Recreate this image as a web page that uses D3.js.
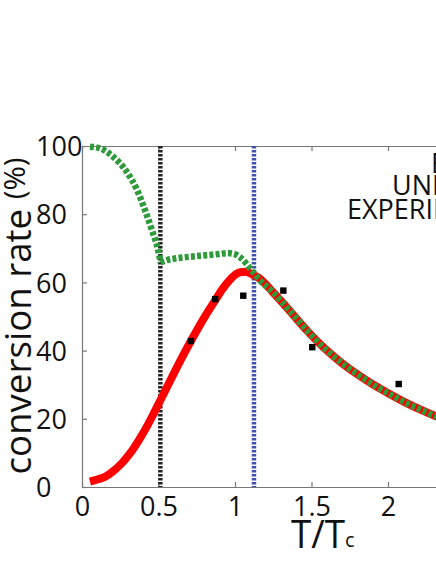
<!DOCTYPE html>
<html><head><meta charset="utf-8">
<script src="https://cdn.jsdelivr.net/npm/d3@7"></script>
<style>html,body{margin:0;padding:0;background:#fff;}svg{display:block;}</style>
</head><body>
<script>
// ---- data ----
const greenT = [0.052,0.12,0.2,0.29,0.36,0.41,0.455,0.50,0.514];
const greenY = [99.8,99.3,97.0,92.6,87.1,81.4,75.6,69.0,65.8];
const green2T = [0.514,0.56,0.62,0.70,0.77,0.89,0.95,0.99,1.035,1.076,1.10,1.13,1.142,1.25,1.359,1.468,1.577,1.686,1.795,1.904,2.013,2.122,2.231,2.314,2.4];
const green2Y = [65.8,66.6,67.1,67.5,67.8,68.3,68.6,68.4,67.3,65.4,64.0,62.4,61.7,57.0,51.6,46.0,41.0,36.8,33.2,30.0,27.2,24.6,22.3,20.7,19.2];
const redT = [0.052,0.1,0.152,0.2,0.261,0.32,0.37,0.42,0.458,0.523,0.588,0.654,0.719,0.806,0.871,0.92,0.967,1.0,1.033,1.07,1.098,1.125,1.142,1.25,1.359,1.468,1.577,1.686,1.795,1.904,2.013,2.122,2.231,2.314,2.4];
const redY = [1.6,2.2,3.0,4.5,7.0,10.2,13.6,17.4,20.6,26.4,32.2,38.0,43.4,50.2,54.8,58.2,60.8,62.2,63.0,63.1,62.7,62.0,61.7,57.0,51.6,46.0,41.0,36.8,33.2,30.0,27.2,24.6,22.3,20.7,19.2];
const expT = [0.712,0.871,1.054,1.316,1.505,2.07];
const expY = [42.8,55.1,56.1,57.6,41.0,30.2];
const vlineBlack = 0.512;
const vlineBlue = 1.124;
const xTicks = [0,0.5,1,1.5,2,2.5];
const xTickLabels = ["0","0.5","1","1.5","2","2.5"];
const yTicks = [0,20,40,60,80,100];
const legendLabels = ["BEC","UNITARY","EXPERIMENT"];

const W = 436, H = 564;
const svg = d3.select("body").append("svg").attr("width",W).attr("height",H);
svg.append("rect").attr("width",W).attr("height",H).attr("fill","#fff");

const x = d3.scaleLinear().domain([0,3]).range([82,82+459]);
const y = d3.scaleLinear().domain([0,100]).range([487,146]);
const font = "'Open Sans', 'DejaVu Sans', sans-serif";
const axisColor = "#777";

// axes
const gB = svg.append("g").attr("transform","translate(0,487)")
  .call(d3.axisBottom(x).tickValues(xTicks).tickFormat((d,i)=>xTickLabels[i]).tickSizeInner(-5).tickSizeOuter(0));
gB.selectAll("text").attr("y",29).attr("dy",0).attr("font-size",27).attr("font-family",font).attr("fill","#111");
const gT = svg.append("g").attr("transform","translate(0,146)")
  .call(d3.axisTop(x).tickValues(xTicks).tickFormat("").tickSizeInner(-5).tickSizeOuter(0));
const gL = svg.append("g").attr("transform","translate(82,0)")
  .call(d3.axisLeft(y).tickValues(yTicks).tickSizeInner(-5).tickSizeOuter(0));
gL.selectAll("text").attr("x",-46).attr("dy","0.36em").attr("text-anchor","start")
  .attr("font-size",27).attr("font-family",font).attr("fill","#111");
[gB,gT,gL].forEach(g=>{
  g.select(".domain").attr("stroke",axisColor).attr("stroke-width",1.2);
  g.selectAll(".tick line").attr("stroke",axisColor).attr("stroke-width",1.2);
});

// vertical dashed lines
svg.append("line").attr("x1",x(vlineBlack)).attr("x2",x(vlineBlack)).attr("y1",y(100)).attr("y2",y(0))
  .attr("stroke","#222").attr("stroke-width",4.5).attr("stroke-dasharray","2.6,1.4");
svg.append("line").attr("x1",x(vlineBlue)).attr("x2",x(vlineBlue)).attr("y1",y(100)).attr("y2",y(0))
  .attr("stroke","#3f52a8").attr("stroke-width",4.5).attr("stroke-dasharray","2.6,1.4");

const line = d3.line().x(d=>x(d[0])).y(d=>y(d[1])).curve(d3.curveMonotoneX);

// red line
svg.append("path").datum(redT.map((t,i)=>[t,redY[i]])).attr("d",line)
  .attr("fill","none").attr("stroke","#ff0000").attr("stroke-width",8);

// green dashed
const gStyle = p=>p.attr("fill","none").attr("stroke","#2e9a3a").attr("stroke-width",6.5).attr("stroke-dasharray","4,2.2");
svg.append("path").datum(greenT.map((t,i)=>[t,greenY[i]])).attr("d",line).call(gStyle);
svg.append("path").datum(green2T.map((t,i)=>[t,green2Y[i]])).attr("d",line).call(gStyle);

// experiment points
svg.append("g").selectAll("rect").data(expT.map((t,i)=>[t,expY[i]])).join("rect")
  .attr("x",d=>x(d[0])-3.2).attr("y",d=>y(d[1])-3.2).attr("width",6.4).attr("height",6.4).attr("fill","#000");

// legend (cut off on right, as in the reference)
const legX = [431,392,347], legY = [173,195,219];
svg.append("g").selectAll("text").data(legendLabels).join("text")
  .attr("x",(d,i)=>legX[i]).attr("y",(d,i)=>legY[i])
  .attr("font-size",27).attr("font-family",font).attr("fill","#111").text(d=>d);

// axis titles
const yl = svg.append("text").attr("transform","translate(31,316) rotate(-90)").attr("text-anchor","middle")
  .attr("font-size",36).attr("font-family",font).attr("fill","#111")
  .attr("textLength",317).attr("lengthAdjust","spacingAndGlyphs");
yl.append("tspan").text("conversion rate ");
yl.append("tspan").attr("font-size",29).attr("dy",-6).text("(%)");
svg.append("text").attr("x",291).attr("y",548).attr("font-size",38).attr("font-family",font).attr("fill","#111")
  .attr("textLength",54).attr("lengthAdjust","spacingAndGlyphs").text("T/T");
svg.append("text").attr("x",345).attr("y",547).attr("font-size",20).attr("font-family",font).attr("fill","#111").text("c");
</script>
</body></html>
